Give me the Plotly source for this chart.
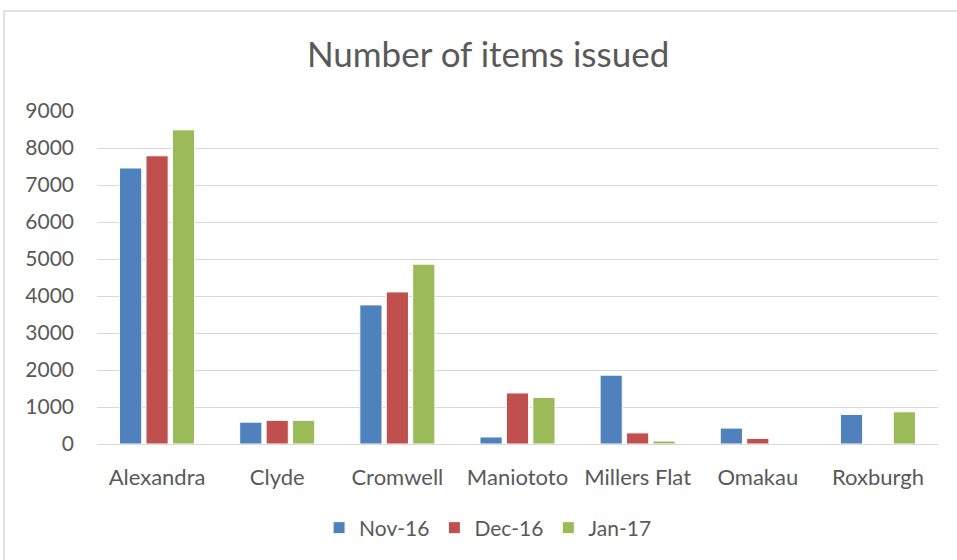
import plotly.graph_objects as go

categories = ["Alexandra", "Clyde", "Cromwell", "Maniototo", "Millers Flat", "Omakau", "Roxburgh"]
series_names = ["Nov-16", "Dec-16", "Jan-17"]
nov16 = [7460, 590, 3760, 190, 1860, 430, 800]
dec16 = [7790, 640, 4110, 1380, 300, 150, 0]
jan17 = [8490, 640, 4860, 1260, 80, 0, 870]
colors = ["#4f81bd", "#c0504d", "#9bbb59"]
y_ticks = [0, 1000, 2000, 3000, 4000, 5000, 6000, 7000, 8000, 9000]

FONT = "Lato, sans-serif"

fig = go.Figure()
for name, vals, col in zip(series_names, [nov16, dec16, jan17], colors):
    fig.add_trace(go.Bar(x=categories, y=vals, name=name,
                         marker=dict(color=col, line=dict(color="white", width=1))))

W, H = 957, 560
L, R, T, B = 97, 19, 111, 116
pw, ph = W - L - R, H - T - B

fig.update_layout(
    width=W, height=H,
    margin=dict(l=L, r=R, t=T, b=B),
    paper_bgcolor="white", plot_bgcolor="white",
    barmode="group", bargap=0.34, bargroupgap=0.16,
    font=dict(family=FONT, color="#595959"),
    title=dict(text="Number of items issued", x=0.51, xanchor="center",
               y=1 - 55 / H, yanchor="middle",
               font=dict(size=35, color="#595959")),
    xaxis=dict(showgrid=False, showline=False, ticks="", tickfont=dict(size=22),
               ticklabelstandoff=18),
    yaxis=dict(range=[0, 9000], tickvals=y_ticks, showgrid=True, gridcolor="#d9d9d9",
               gridwidth=1, zeroline=True, zerolinecolor="#d9d9d9", zerolinewidth=1,
               showline=False, ticks="", tickfont=dict(size=21), ticklabelstandoff=22),
    legend=dict(orientation="h", x=0.465, xanchor="center", y=(444 - 528) / ph,
                yanchor="middle", font=dict(size=21), itemwidth=30,
                traceorder="normal"),
    showlegend=True,
)

fig.add_shape(type="rect", xref="paper", yref="paper",
              x0=(4 - L) / pw, x1=(W + 20 - L) / pw,
              y0=-(H - T) / ph - 0.2, y1=(H - B - 11) / ph,
              line=dict(color="#d9d9d9", width=1.5), fillcolor="rgba(0,0,0,0)", layer="below")

fig.write_html("out.html")
